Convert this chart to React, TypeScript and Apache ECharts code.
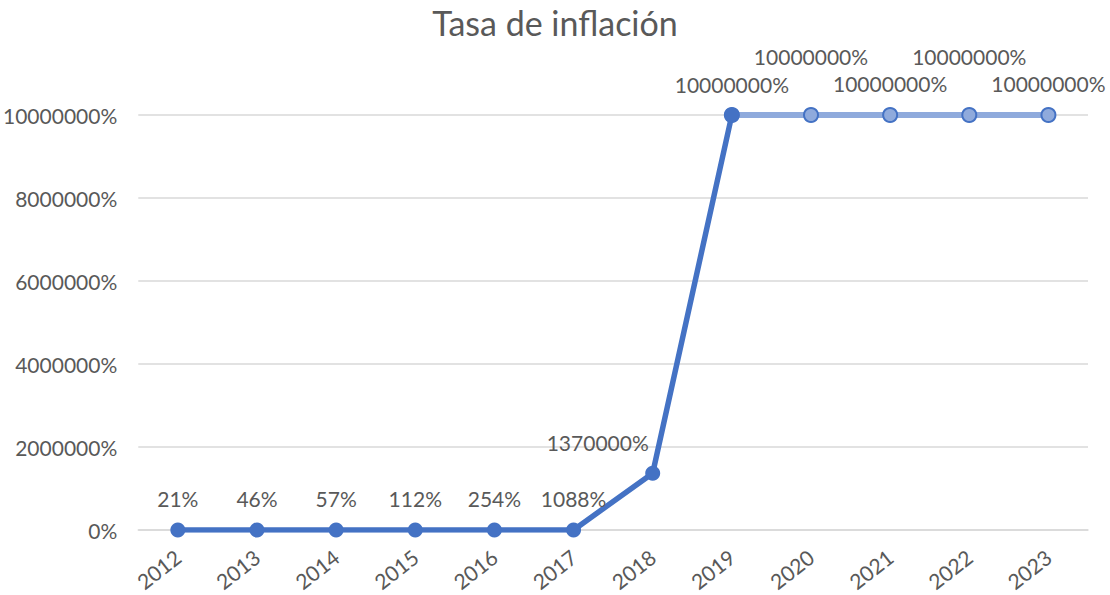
import React, { useEffect, useRef } from "react";
import * as echarts from "echarts";

const years = ["2012", "2013", "2014", "2015", "2016", "2017", "2018", "2019", "2020", "2021", "2022", "2023"];
const historic = [21, 46, 57, 112, 254, 1088, 1370000, 10000000];
const projected = [10000000, 10000000, 10000000, 10000000, 10000000];
const yTicks = { min: 0, max: 10000000, interval: 2000000 };

const DARK = "#4472C4";
const LIGHT = "#8FAADC";
const TEXT = "#595959";
const FONT = "Lato";

export default function App() {
  const ref = useRef<HTMLDivElement>(null);
  useEffect(() => {
    if (!ref.current) return;
    const chart = echarts.init(ref.current, undefined, { renderer: "svg" });
    const histData: any[] = years.map((_, i) => {
      if (i >= historic.length) return "-";
      const item: any = { value: historic[i] };
      if (i === 6) item.label = { offset: [-55, 0] };
      return item;
    });
    const projStart = historic.length - 1;
    const projData: any[] = years.map((_, i) => {
      if (i < projStart) return "-";
      const k = i - projStart;
      const item: any = { value: projected[k] };
      if (k === 0) item.label = { show: false };
      else if (k % 2 === 1) item.label = { offset: [0, -27] };
      return item;
    });
    const labelBase = {
      show: true,
      position: "top",
      distance: 13,
      formatter: (p: any) => `${p.value}%`,
      color: TEXT,
      fontFamily: FONT,
      fontSize: 21,
    };
    chart.setOption({
      animation: false,
      title: {
        text: "Tasa de inflación",
        left: "center",
        top: 0,
        textStyle: { color: TEXT, fontFamily: FONT, fontSize: 34, fontWeight: "normal" },
      },
      grid: { left: 138, right: 22, top: 115, bottom: 65, containLabel: false },
      xAxis: {
        type: "category",
        data: years,
        boundaryGap: true,
        axisLine: { show: true, lineStyle: { color: "#D9D9D9", width: 1.5 } },
        axisTick: { show: false },
        axisLabel: { color: TEXT, fontFamily: FONT, fontSize: 21, rotate: 38, margin: 24 },
      },
      yAxis: {
        type: "value",
        min: yTicks.min,
        max: yTicks.max,
        interval: yTicks.interval,
        axisLine: { show: false },
        axisTick: { show: false },
        splitLine: { lineStyle: { color: "#D9D9D9", width: 1.5 } },
        axisLabel: {
          color: TEXT,
          fontFamily: FONT,
          fontSize: 21,
          margin: 21,
          formatter: (v: number) => `${v}%`,
        },
      },
      series: [
        {
          type: "line",
          data: projData,
          z: 2,
          symbol: "circle",
          symbolSize: 14,
          lineStyle: { color: LIGHT, width: 6 },
          itemStyle: { color: LIGHT, borderColor: DARK, borderWidth: 2 },
          label: labelBase,
        },
        {
          type: "line",
          data: histData,
          z: 3,
          symbol: "circle",
          symbolSize: 15,
          lineStyle: { color: DARK, width: 5.5 },
          itemStyle: { color: DARK },
          label: labelBase,
        },
      ],
    });
    return () => chart.dispose();
  }, []);
  return <div ref={ref} style={{ position: "fixed", left: 0, top: 0, width: 1110, height: 595, background: "#fff" }} />;
}
